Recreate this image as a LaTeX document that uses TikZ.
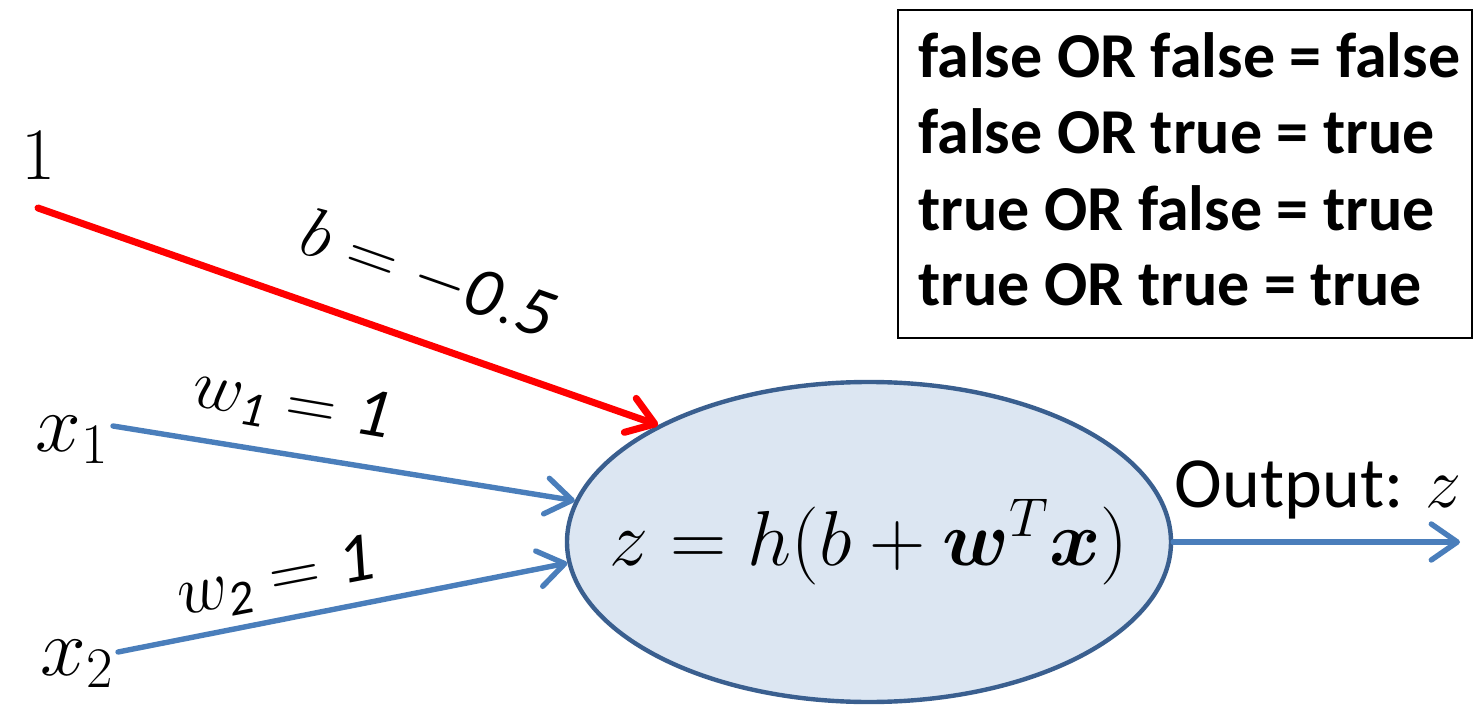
\documentclass[tikz,border=0pt]{standalone}
\usepackage{fix-cm}
\usepackage{amsmath}
\usepackage{bm}
\usepackage{fontspec}
\setmainfont{Carlito}
\usetikzlibrary{arrows.meta,shapes.geometric}

\definecolor{wblue}{HTML}{4A7EBB}
\definecolor{cellfill}{HTML}{DCE6F2}
\definecolor{celldraw}{HTML}{3A5F8F}

\begin{document}
\begin{tikzpicture}[x=0.5pt,y=-0.5pt,
  tip/.style={-{Straight Barb[length=13pt,width=18pt,line cap=round,line join=round]}},
  wire/.style={tip,draw=wblue,line width=2.7pt,line cap=round},
  bias/.style={tip,draw=red,line width=3.5pt,line cap=round},
  cell/.style={ellipse,draw=celldraw,fill=cellfill,line width=2.2pt,minimum width=302pt,minimum height=160pt,inner sep=0pt},
  inp/.style={inner sep=2pt,font=\fontsize{41}{44}\selectfont},
  lbl/.style={inner sep=0pt,font=\fontsize{35}{38}\selectfont}]
  \useasboundingbox (0,0) rectangle (1474,706);

  % neuron and inputs
  \node[cell] (neuron) at (869,542) {};
  \node[font=\fontsize{39}{42}\selectfont] (eq) at (neuron) {$z = h(b + \bm{w}^{T}\bm{x})$};
  \node[inp,anchor=south,font=\fontsize{37}{40}\selectfont] (one) at (38,184) {$1$};
  \node[inp,anchor=east] (x1) at (113,440) {$x_1$};
  \node[inp,anchor=east] (x2) at (118,664) {$x_2$};
  \coordinate (out) at (1460,542);

  \draw[bias] ([yshift=-12pt]one.south) -- (neuron.151.6);
  \draw[wire] ([yshift=7pt]x1.east) -- (neuron.172.9);
  \draw[wire] ([yshift=6pt]x2.east) -- (neuron.184.8);
  \draw[wire] (neuron.east) -- (out);

  % weights
  \node[lbl,rotate=-19.4] (bl) at (428,275) {$b = -\mathit{0.5}$};
  \node[lbl,rotate=-9.6] (w1l) at (292,405) {$w_{\mathit{1}} = \mathit{1}$};
  \node[lbl,rotate=10.8] (w2l) at (276,580) {$w_{\mathit{2}} = \mathit{1}$};
  \node[lbl,font=\fontsize{36}{40}\selectfont] (outl) at (1318,490) {Output: $z$};

  % truth table
  \draw[line width=1pt] (898,10) rectangle (1472,338);
  \foreach \t [count=\i] in {false OR false = false,false OR true = true,true OR false = true,true OR true = true}
    \node[anchor=base west,inner sep=0pt,font=\bfseries\fontsize{32}{38}\selectfont] (row\i) at (918,2+76*\i) {\t};
\end{tikzpicture}
\end{document}
